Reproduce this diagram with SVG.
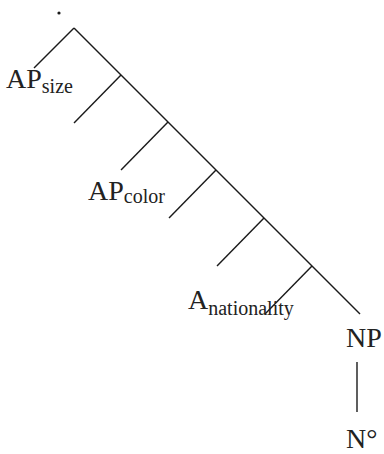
<svg xmlns="http://www.w3.org/2000/svg" width="384" height="454" viewBox="0 0 384 454">
<style>
.ln{stroke:#1a1a1a;stroke-width:1.4;fill:none;stroke-linecap:butt}
text{font-family:'Liberation Serif','Times New Roman',serif;font-size:28px;fill:#222}
.sb{font-size:20px}
</style>
<rect width="384" height="454" fill="#fff"/>
<g id="connectors">
<path class="ln" d="M74,28 L360,314"/>
<path class="ln" d="M74,28 L34,68"/>
<path class="ln" d="M121,75 L74,123"/>
<path class="ln" d="M168,122 L121,170"/>
<path class="ln" d="M216,170 L169,218"/>
<path class="ln" d="M264,218 L217,266"/>
<path class="ln" d="M312,266 L265,314"/>
<path class="ln" d="M357,362 L357,412"/>
</g>
<g id="root"><circle cx="59" cy="13" r="1.6" fill="#1a1a1a"/></g>
<g id="ap-size"><text x="6" y="88">AP<tspan class="sb" dy="5">size</tspan></text></g>
<g id="ap-color"><text x="88" y="200">AP<tspan class="sb" dy="3">color</tspan></text></g>
<g id="a-nationality"><text x="188" y="309">A<tspan class="sb" dy="6">nationality</tspan></text></g>
<g id="np"><text x="346" y="347">NP</text></g>
<g id="n0"><text x="346" y="448">N°</text></g>
</svg>
